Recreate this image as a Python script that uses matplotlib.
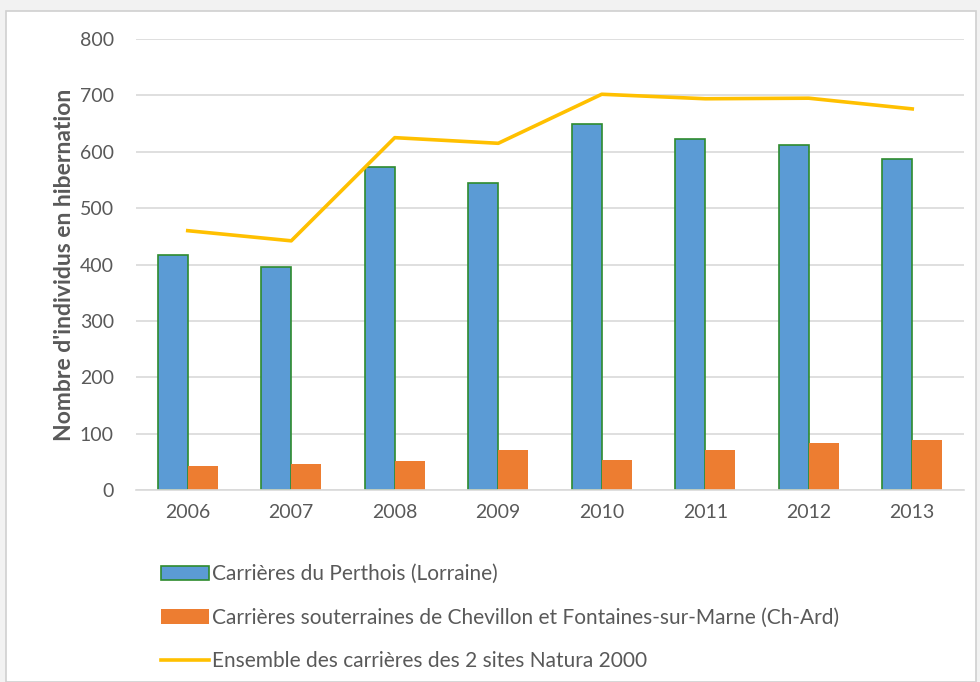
import numpy as np
import matplotlib.pyplot as plt
from matplotlib.patches import Rectangle

years = ["2006", "2007", "2008", "2009", "2010", "2011", "2012", "2013"]
perthois = [417, 395, 573, 544, 649, 622, 612, 587]
chevillon = [43, 47, 51, 71, 53, 71, 83, 89]
ensemble = [460, 442, 625, 615, 702, 694, 695, 676]

plt.rcParams['font.family'] = ['Lato', 'DejaVu Sans']

fig = plt.figure(figsize=(9.8, 6.82), dpi=100)
fig.patch.set_facecolor('#f2f2f2')
# white chart area with light grey frame
fig.patches.append(Rectangle((6 / 980, 0), 970 / 980, 671 / 682, transform=fig.transFigure,
                             facecolor='white', edgecolor='#d0d0d0', lw=1.2, zorder=-5))

ax = fig.add_axes([136 / 980, 192 / 682, 828 / 980, 451 / 682])
ax.set_zorder(2)
ax.set_facecolor('none')
x = np.arange(len(years))
w = 0.29
b1 = ax.bar(x - w / 2, perthois, w, color='#5b9bd5', edgecolor='#2e8b2e', lw=1.2,
            label='Carrières du Perthois (Lorraine)', zorder=2)
b2 = ax.bar(x + w / 2, chevillon, w, color='#ed7d31',
            label='Carrières souterraines de Chevillon et Fontaines-sur-Marne (Ch-Ard)', zorder=2)
l1, = ax.plot(x, ensemble, color='#ffc000', lw=2.6,
              label='Ensemble des carrières des 2 sites Natura 2000', zorder=3)

ax.set_xlim(-0.5, len(years) - 0.5)
ax.set_ylim(0, 800)
ax.set_yticks(np.arange(0, 801, 100))
ax.set_xticks(x)
ax.set_xticklabels(years)
ax.yaxis.grid(True, color='#d9d9d9', lw=1.2, zorder=0)
ax.set_axisbelow(True)
for s in ['top', 'right', 'left']:
    ax.spines[s].set_visible(False)
ax.spines['bottom'].set_color('#d9d9d9')
ax.spines['bottom'].set_linewidth(1.2)
ax.tick_params(length=0, labelsize=14, colors='#595959', pad=10)
ax.tick_params(axis='y', pad=16)
ax.set_ylabel("Nombre d'individus en hibernation", fontsize=16.5, fontweight='bold',
              color='#595959', labelpad=3)

ax.legend(handles=[b1, b2, l1], loc='upper left',
          bbox_to_anchor=(153 / 980, (682 - 556) / 682), bbox_transform=fig.transFigure,
          frameon=False, fontsize=15, labelcolor='#595959', handlelength=2.3,
          handletextpad=0.15, labelspacing=1.12, borderaxespad=0)

plt.savefig('out.png', dpi=100)
